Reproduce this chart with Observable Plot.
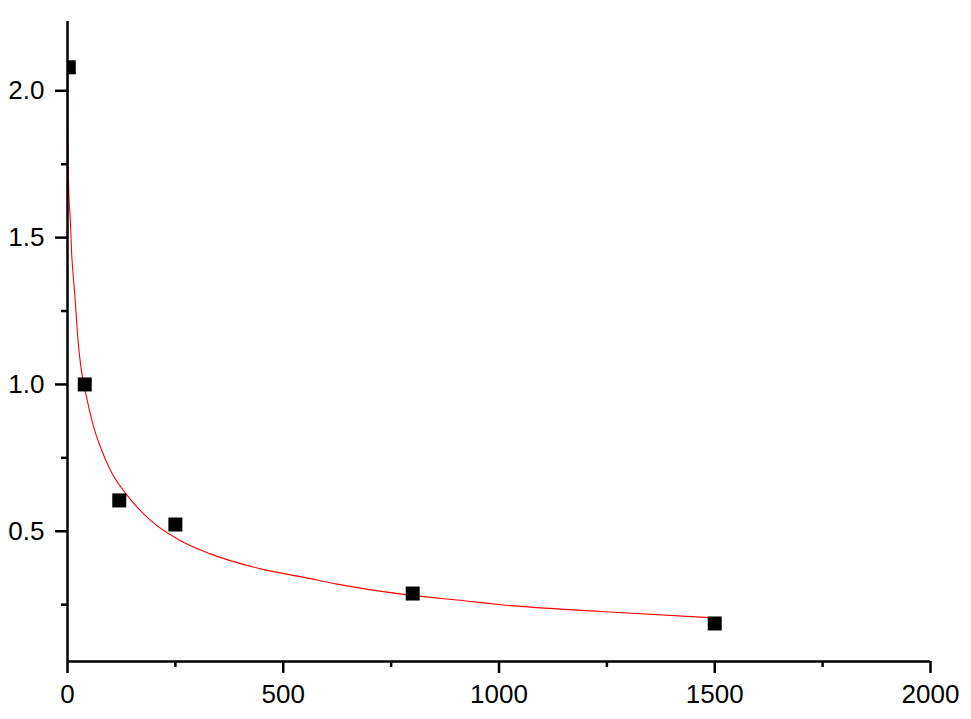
<!DOCTYPE html>
<html>
<head>
<meta charset="utf-8">
<script src="https://cdn.jsdelivr.net/npm/d3@7"></script>
<script src="https://cdn.jsdelivr.net/npm/@observablehq/plot@0.6"></script>
<style>
  html, body { margin: 0; padding: 0; background: #fff; }
  #chart { width: 971px; height: 719px; }
</style>
</head>
<body>
<div id="chart"></div>
<script>
// Measured points
const pointX = [3, 40, 120, 250, 800, 1500];
const pointY = [2.08, 1.00, 0.605, 0.523, 0.288, 0.186];

// Fitted curve
const fitX = [0.5, 1.2, 3, 7, 9.3, 12.3, 16.2, 23.9, 30.1, 37.8, 49.4, 60.9, 76.5, 99.7, 138.4, 192.4, 261.9, 331.4, 447.3, 551.6, 625, 778.7, 934, 1003.5, 1235, 1500];
const fitY = [2.085, 1.813, 1.660, 1.547, 1.455, 1.387, 1.319, 1.159, 1.070, 1.002, 0.922, 0.854, 0.786, 0.707, 0.622, 0.537, 0.468, 0.423, 0.372, 0.342, 0.320, 0.285, 0.261, 0.250, 0.227, 0.205];

// Axis ticks
const xMajor = [0, 500, 1000, 1500, 2000];
const xMinor = [250, 750, 1250, 1750];
const yMajor = [0.5, 1.0, 1.5, 2.0];
const yMinor = [0.25, 0.75, 1.25, 1.75];
const xDomain = [0, 2000];
const yDomain = [0.0565, 2.236];

const points = pointX.map((x, i) => ({x, y: pointY[i]}));
const fit = fitX.map((x, i) => ({x, y: fitY[i]}));

const font = "'Liberation Sans', Arial, sans-serif";

const chart = Plot.plot({
  width: 971,
  height: 719,
  marginLeft: 67,
  marginRight: 41,
  marginTop: 21,
  marginBottom: 58,
  style: {fontFamily: font, color: "black", background: "white"},
  x: {domain: xDomain},
  y: {domain: yDomain},
  marks: [
    Plot.line(fit, {x: "x", y: "y", stroke: "red", strokeWidth: 1.1, curve: "monotone-x", clip: true}),
    Plot.dot(points, {x: "x", y: "y", symbol: "square", r: 7.9, fill: "black", stroke: "none", clip: true}),
    Plot.ruleX([xDomain[0]], {stroke: "black", strokeWidth: 2.5}),
    Plot.ruleY([yDomain[0]], {stroke: "black", strokeWidth: 2.5}),
    Plot.axisX({ticks: xMajor, tickSize: 12, tickPadding: 11, fontSize: 26, strokeWidth: 2.5, tickFormat: d => String(d), label: null}),
    Plot.axisX({ticks: xMinor, tickSize: 6, strokeWidth: 2.5, text: null, label: null}),
    Plot.axisY({ticks: yMajor, tickSize: 12, tickPadding: 11, fontSize: 26, strokeWidth: 2.5, tickFormat: d3.format(".1f"), label: null}),
    Plot.axisY({ticks: yMinor, tickSize: 6, strokeWidth: 2.5, text: null, label: null})
  ]
});
document.getElementById("chart").appendChild(chart);
</script>
</body>
</html>
